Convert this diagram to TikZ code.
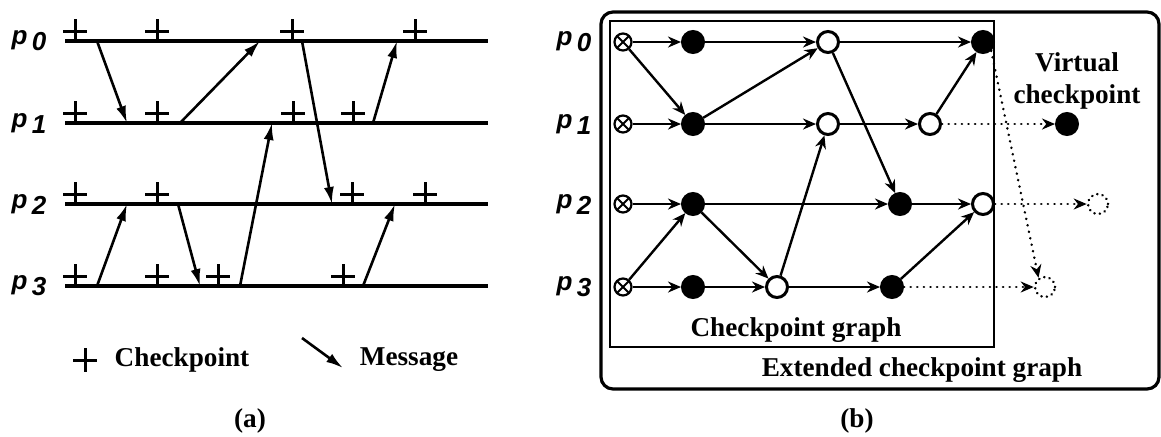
\documentclass[tikz,border=0pt]{standalone}
\usepackage{fontspec}
\setmainfont{Liberation Serif}
\setsansfont{Liberation Sans}
\usetikzlibrary{arrows.meta,shapes.misc}
\tikzset{
  proc/.style={line width=1.6pt},
  msg/.style={-{Latex[length=8.5pt,width=5pt]}, line width=1.3pt},
  ckpt/.style={cross out, draw, rotate=45, line width=1.5pt, inner sep=0pt, minimum size=6.7pt},
  plbl/.style={font=\sffamily\bfseries\itshape\fontsize{13pt}{15pt}\selectfont, inner sep=1pt},
  lbl/.style={font=\bfseries\fontsize{13.6pt}{16pt}\selectfont, inner sep=1pt, align=center},
  init/.style={draw, circle, line width=1.1pt, inner sep=0pt, minimum size=8.5pt, fill=white, path picture={\draw[line width=1pt] (path picture bounding box.north west) -- (path picture bounding box.south east) (path picture bounding box.south west) -- (path picture bounding box.north east);}},
  full/.style={circle, fill=black, draw, line width=1pt, inner sep=0pt, minimum size=11pt},
  empty/.style={circle, fill=white, draw, line width=1.5pt, inner sep=0pt, minimum size=10.5pt},
  vempty/.style={circle, draw, line width=1.3pt, dash pattern=on 0.1pt off 2.6pt, line cap=round, inner sep=0pt, minimum size=10pt},
  edge/.style={-{Stealth[length=6.5pt,width=5.5pt]}, line width=1.2pt},
  vedge/.style={-{Stealth[length=6.5pt,width=5.5pt]}, line width=1.3pt, dash pattern=on 0.1pt off 3.2pt, line cap=round},
  frame/.style={line width=1.3pt},
}
\begin{document}
\begin{tikzpicture}[x=0.5pt, y=-0.5pt]
\useasboundingbox (0,0) rectangle (1161,436);
% (a) time lines with checkpoints and messages
\foreach \i/\y in {0/41,1/123,2/204,3/286} {
  \node[plbl] (pa\i) at (29,\y) {p\,\raisebox{-3pt}{\i}};
  \draw[proc] (65,\y) -- (488,\y);
}
\foreach \x [count=\j] in {75,157,292,415} \node[ckpt] (c0\j) at (\x,31) {};
\foreach \x [count=\j] in {75,157,293,353} \node[ckpt] (c1\j) at (\x,113) {};
\foreach \x [count=\j] in {75,157,352,425} \node[ckpt] (c2\j) at (\x,194) {};
\foreach \x [count=\j] in {75,157,218,343} \node[ckpt] (c3\j) at (\x,276) {};
\coordinate (s1) at (97,41);   \coordinate (r1) at (127,123);
\coordinate (s2) at (180,123); \coordinate (r2) at (260,41);
\coordinate (s3) at (302,41);  \coordinate (r3) at (332,204);
\coordinate (s4) at (373,123); \coordinate (r4) at (397,41);
\coordinate (s5) at (240,286); \coordinate (r5) at (272,123);
\coordinate (s6) at (97,286);  \coordinate (r6) at (127,204);
\coordinate (s7) at (178,204); \coordinate (r7) at (200,286);
\coordinate (s8) at (363,286); \coordinate (r8) at (395,204);
\foreach \n in {1,...,8} \draw[msg] (s\n) -- (r\n);
% legend
\node[ckpt] (lgc) at (85,360) {};
\node[lbl] (lgct) at (182,360) {Checkpoint};
\coordinate (lgm1) at (302,338); \coordinate (lgm2) at (343,368);
\draw[msg] (lgm1) -- (lgm2);
\node[lbl] (lgmt) at (409,360) {Message};
\node[lbl] (capa) at (250,421) {(a)};
% (b) checkpoint graph
\draw[frame, line width=1.6pt, rounded corners=6pt] (601,12) rectangle (1159,389);
\draw[frame] (610,21) rectangle (994,347);
\foreach \i/\y in {0/42,1/124,2/204,3/287} {
  \node[plbl] (pb\i) at (574,\y) {p\,\raisebox{-3pt}{\i}};
  \node[init] (n\i0) at (623,\y) {};
  \node[full] (n\i1) at (693,\y) {};
}
\node[empty] (n02) at (828,42) {};
\node[full]  (n03) at (983,42) {};
\node[empty] (n12) at (828,124) {};
\node[empty] (n13) at (930,124) {};
\node[full]  (n22) at (900,204) {};
\node[empty] (n23) at (983,204) {};
\node[empty] (n32) at (777,287) {};
\node[full]  (n33) at (892,287) {};
% virtual checkpoints
\node[full] (v1) at (1067,124) {};
\node[vempty] (v2) at (1098,204) {};
\node[vempty] (v3) at (1045,287) {};
\foreach \i in {0,...,3}
  \foreach \j/\k in {0/1,1/2,2/3} \draw[edge] (n\i\j) -- (n\i\k);
\foreach \a/\b in {n00/n11, n11/n02, n02/n22, n13/n03, n30/n21, n21/n32, n32/n12, n33/n23}
  \draw[edge] (\a) -- (\b);
\foreach \a/\b in {n13/v1, n23/v2, n33/v3} \draw[vedge] (\a) -- (\b);
\draw[vedge] (n03.-47) -- (v3.125);
\node[lbl] (vc) at (1077,81) {Virtual\\checkpoint};
\node[lbl] (cg) at (796,330) {Checkpoint graph};
\node[lbl] (ecg) at (922,370) {Extended checkpoint graph};
\node[lbl] (capb) at (857,421) {(b)};
\end{tikzpicture}
\end{document}
